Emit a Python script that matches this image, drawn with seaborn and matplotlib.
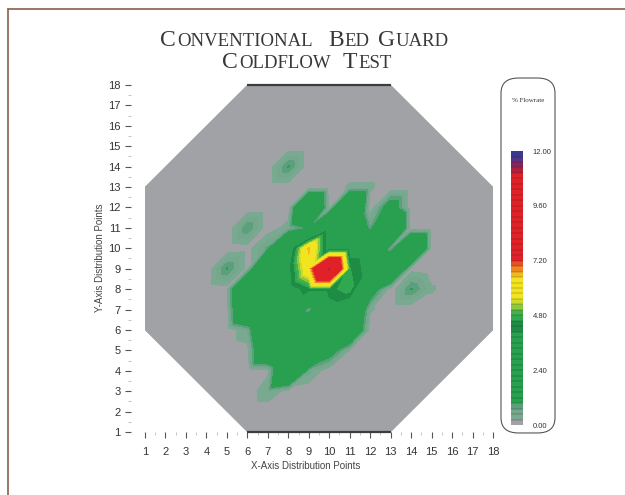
import numpy as np
import matplotlib
matplotlib.use("Agg")
import matplotlib.pyplot as plt
import matplotlib.tri as mtri
from matplotlib.colors import ListedColormap, BoundaryNorm
from matplotlib.patches import Polygon, FancyBboxPatch
from matplotlib.lines import Line2D
from matplotlib.ticker import FormatStrFormatter, MultipleLocator
import seaborn as sns

# ---- data -------------------------------------------------------------
x_points = list(range(1, 19))
y_points = list(range(1, 19))

# % flowrate measured at each distribution point
# one row per Y point, listed from y=18 (top) down to y=1; columns are x=1..18
flowrate = [
    [0, 0, 0, 0, 0,   0,    0,   0,   0,   0,    0,   0,   0,   0,   0,   0, 0, 0],  # 18
    [0, 0, 0, 0, 0,   0,    0,   0,   0,   0,    0,   0,   0,   0,   0,   0, 0, 0],  # 17
    [0, 0, 0, 0, 0,   0,    0,   0,   0,   0,    0,   0,   0,   0,   0,   0, 0, 0],  # 16
    [0, 0, 0, 0, 0,   0,    0,   0,   0,   0,    0,   0,   0,   0,   0,   0, 0, 0],  # 15
    [0, 0, 0, 0, 0,   0,    0,   1.0, 0,   0,    0,   0,   0,   0,   0,   0, 0, 0],  # 14
    [0, 0, 0, 0, 0,   0,    0,   0,   0,   0,    0.3, 0.3, 0,   0,   0,   0, 0, 0],  # 13
    [0, 0, 0, 0, 0,   0,    0,   0,   3.5, 0.1,  3.5, 0,   1.5, 0,   0,   0, 0, 0],  # 12
    [0, 0, 0, 0, 0,   0.95, 0,   0.4, 1.0, 3.5,  3.0, 0.7, 3.5, 0,   0,   0, 0, 0],  # 11
    [0, 0, 0, 0, 0,   0.1,  0.8, 3.2, 6.6, 3.6,  3.6, 3.5, 0.5, 3.5, 0.1, 0, 0, 0],  # 10
    [0, 0, 0, 0, 1.0, 0.1,  3.5, 3.8, 6.2, 11.2, 4.6, 3.6, 3.2, 0.1, 0,   0, 0, 0],  # 9
    [0, 0, 0, 0, 0.1, 3.5,  3.5, 3.6, 4.4, 4.4,  4.8, 1.6, 0,   1.0, 0.3, 0, 0, 0],  # 8
    [0, 0, 0, 0, 0.1, 2.8,  3.5, 3.2, 0.5, 3.6,  3.0, 0.3, 0,   0,   0,   0, 0, 0],  # 7
    [0, 0, 0, 0, 0,   0.5,  3.0, 3.5, 3.5, 3.5,  2.5, 0,   0,   0,   0,   0, 0, 0],  # 6
    [0, 0, 0, 0, 0,   0.1,  2.6, 3.5, 3.5, 1.5,  0.2, 0,   0,   0,   0,   0, 0, 0],  # 5
    [0, 0, 0, 0, 0,   0,    0.15, 3.0, 0.6, 0,   0,   0,   0,   0,   0,   0, 0, 0],  # 4
    [0, 0, 0, 0, 0,   0,    0.5, 0.1, 0,   0,    0,   0,   0,   0,   0,   0, 0, 0],  # 3
    [0, 0, 0, 0, 0,   0,    0,   0,   0,   0,    0,   0,   0,   0,   0,   0, 0, 0],  # 2
    [0, 0, 0, 0, 0,   0,    0,   0,   0,   0,    0,   0,   0,   0,   0,   0, 0, 0],  # 1
]

# octagonal test bed outline (corner distribution points)
bed_x = [6, 13, 18, 18, 13, 6, 1, 1]
bed_y = [18, 18, 13, 6, 1, 1, 6, 13]

scale_ticks = [0.0, 2.4, 4.8, 7.2, 9.6, 12.0]

# ---- colour scale: 50 bands of 0.24 % from 0 to 12 % ----------------
band_colors = (
    ["#a0a2a5", "#7aa991", "#74a78c", "#5c9f7c"]
    + ["#28a04f"] * 13
    + ["#1e8c44"] * 2
    + ["#30a84f", "#46b04a"]
    + ["#8fc83a", "#cbdc2c"]
    + ["#f2e41e"] * 4
    + ["#f5b820", "#f08522", "#e8502a"]
    + ["#e02228"] * 16
    + ["#b21f3c", "#86245e", "#56348a", "#3c3a8c"]
)
levels = np.round(np.arange(0, 12.0001, 0.24), 2)
cmap = ListedColormap(sns.color_palette(band_colors))
norm = BoundaryNorm(levels, cmap.N)

sns.set_theme(style="white")
plt.rcParams["font.family"] = ["Liberation Sans", "DejaVu Sans"]

fig = plt.figure(figsize=(6.25, 4.95), dpi=100)
fig.patch.set_facecolor("white")

ax = fig.add_axes([0.232, 0.1273, 0.5568, 0.701])
ax.set_xlim(1, 18)
ax.set_ylim(1, 18)

# grid of points, each cell split along its SW-NE diagonal
xx, yy = np.meshgrid(x_points, y_points[::-1])
zz = np.array(flowrate, dtype=float)
nx = len(x_points)
idx = np.arange(xx.size).reshape(xx.shape)
tris = []
for r in range(xx.shape[0] - 1):
    for c in range(nx - 1):
        a = idx[r + 1, c]      # lower-left
        b = idx[r + 1, c + 1]  # lower-right
        cc = idx[r, c + 1]     # upper-right
        d = idx[r, c]          # upper-left
        tris.append([a, b, cc])
        tris.append([a, cc, d])
tri = mtri.Triangulation(xx.ravel(), yy.ravel(), np.array(tris))

bed = Polygon(np.column_stack([bed_x, bed_y]), closed=True,
              facecolor="#a0a2a5", edgecolor="none", zorder=1)
ax.add_patch(bed)

# filled twice so the anti-aliased seams between bands disappear
for _ in range(2):
    cs = ax.tricontourf(tri, zz.ravel(), levels=levels, cmap=cmap, norm=norm,
                        zorder=2)
    cs.set_clip_path(bed)

# darker rim on the flat top and bottom of the bed
ax.plot([bed_x[0], bed_x[1]], [bed_y[0], bed_y[1]], color="#3a3c3e",
        lw=1.6, solid_capstyle="butt", zorder=3, clip_on=False)
ax.plot([bed_x[5], bed_x[4]], [bed_y[5], bed_y[4]], color="#3a3c3e",
        lw=1.6, solid_capstyle="butt", zorder=3, clip_on=False)

sns.despine(ax=ax, left=True, bottom=True)
ax.spines["left"].set_position(("outward", 10))
ax.set_xticks(x_points)
ax.set_yticks(y_points)
ax.xaxis.set_minor_locator(MultipleLocator(0.5))
ax.yaxis.set_minor_locator(MultipleLocator(0.5))
ax.tick_params(axis="both", which="major", direction="out", length=4.5,
               width=0.8, color="#555555", labelsize=8, labelcolor="#333333")
ax.tick_params(axis="both", which="minor", direction="out", length=2,
               width=0.6, color="#bbbbbb")
ax.tick_params(axis="x", which="both", bottom=True, pad=6)
ax.tick_params(axis="y", which="both", left=True, pad=3)
ax.set_facecolor("white")

fig.text(306 / 625, 1 - 466 / 495, "X-Axis Distribution Points",
         ha="center", va="center", fontsize=7, color="#444444")
fig.text(100 / 625, 1 - 258 / 495, "Y-Axis Distribution Points",
         ha="center", va="center", rotation=90, fontsize=7, color="#444444")

# ---- colour bar inside a rounded legend box ---------------------------
box = FancyBboxPatch((0.8016, 0.1253), 0.0864, 0.7171,
                     boxstyle="round,pad=0,rounding_size=0.028",
                     mutation_aspect=1.1,
                     transform=fig.transFigure, facecolor="white",
                     edgecolor="#555555", lw=0.8, zorder=0)
fig.patches.append(box)

cax = fig.add_axes([0.8176, 0.1414, 0.0192, 0.5535])
cax.set_zorder(2)
cbar = fig.colorbar(cs, cax=cax, ticks=scale_ticks, drawedges=True)
cbar.dividers.set_color("#111111")
cbar.dividers.set_linewidth(0.35)
cbar.dividers.set_alpha(0.5)
cbar.outline.set_visible(False)
cax.minorticks_off()
cax.yaxis.set_major_formatter(FormatStrFormatter("%.2f"))
cax.tick_params(which="both", length=0, labelsize=5.5, pad=7,
                labelcolor="#333333")
fig.text(528 / 625, 1 - 100 / 495, "% Flowrate", ha="center", va="center",
         fontsize=5, family="Liberation Serif", color="#333333")

# ---- small-caps title -------------------------------------------------
def small_caps_line(words, y, big=17, small=13.5, x_center=0.49,
                    color="#383838", family="Liberation Serif"):
    renderer = fig.canvas.get_renderer()
    pieces = []
    for i, w in enumerate(words):
        if i:
            pieces.append((None, small))
        pieces.append((w[0], big))
        if len(w) > 1:
            pieces.append((w[1:], small))
    space_px = 0.32 * small * fig.dpi / 72
    tracking_px = 0.9
    texts, widths = [], []
    for s, size in pieces:
        if s is None:
            texts.append(None)
            widths.append(space_px)
            continue
        t = fig.text(0, y, s, fontsize=size, family=family, color=color,
                     va="baseline", ha="left")
        w = t.get_window_extent(renderer).width + tracking_px * len(s)
        texts.append(t)
        widths.append(w)
    total = sum(widths)
    x = x_center * fig.bbox.width - total / 2
    for t, w in zip(texts, widths):
        if t is not None:
            t.set_x(x / fig.bbox.width)
        x += w

small_caps_line(["CONVENTIONAL", "BED", "GUARD"], 1 - 46.5 / 495)
small_caps_line(["COLDFLOW", "TEST"], 1 - 68.5 / 495, x_center=0.493)

# thin page frame on the top and left edges
fig.add_artist(Line2D([0.0128, 1.0], [0.982, 0.982], transform=fig.transFigure,
                      color="#8b5e4c", lw=1.2))
fig.add_artist(Line2D([0.0128, 0.0128], [0.0, 0.982], transform=fig.transFigure,
                      color="#8b5e4c", lw=1.2))

fig.savefig("out.png", dpi=100, facecolor="white")
